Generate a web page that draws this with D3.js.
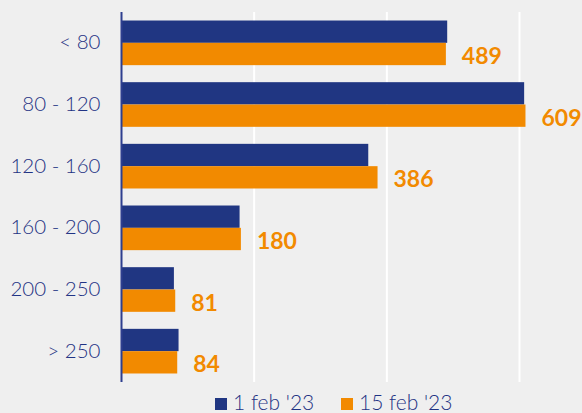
<!DOCTYPE html>
<html><head><meta charset="utf-8">
<script src="https://cdn.jsdelivr.net/npm/d3@7"></script>
<style>
html,body{margin:0;padding:0;background:#efefef;}
svg{display:block;font-family:Lato,"Open Sans",sans-serif;}
</style></head>
<body><svg id="c" width="582" height="413"></svg>
<script>
const categories = ["< 80", "80 - 120", "120 - 160", "160 - 200", "200 - 250", "> 250"];
const seriesNames = ["1 feb '23", "15 feb '23"];
const feb1 = [491, 607, 372, 178, 79, 86];
const feb15 = [489, 609, 386, 180, 81, 84];
const gridTicks = [200, 400, 600];
const colors = ["#203682", "#f28a00"];

(function () {
const svg = d3.select("#c");
const plotTop = 12, plotBottom = 382, plotLeft = 121.5;
const x = d3.scaleLinear().domain([0, 600]).range([plotLeft, 519.5]);
const y = d3.scaleBand().domain(categories).range([plotTop, plotBottom]).paddingInner(0.276).paddingOuter(0.138);
const y1 = d3.scaleBand().domain(seriesNames).range([0, y.bandwidth()]);

// gridlines
svg.append("g").selectAll("line").data(gridTicks).join("line")
  .attr("x1", d => x(d)).attr("x2", d => x(d))
  .attr("y1", plotTop).attr("y2", plotBottom)
  .attr("stroke", "#ffffff").attr("stroke-width", 2);

const rows = categories.map((c, i) => ({cat: c, vals: [feb1[i], feb15[i]]}));

const g = svg.append("g").selectAll("g").data(rows).join("g")
  .attr("transform", d => `translate(0,${y(d.cat)})`);
g.selectAll("rect").data(d => d.vals.map((v, j) => ({s: seriesNames[j], v, j}))).join("rect")
  .attr("x", x(0)).attr("y", d => y1(d.s))
  .attr("width", d => x(d.v) - x(0)).attr("height", y1.bandwidth())
  .attr("fill", d => colors[d.j]);

// data labels for 15 feb
g.append("text")
  .attr("x", d => x(d.vals[1]) + 16)
  .attr("y", y1(seriesNames[1]) + y1.bandwidth() / 2 + 1)
  .attr("dominant-baseline", "central")
  .attr("fill", colors[1]).attr("font-weight", "bold").attr("font-size", 23)
  .text(d => d.vals[1]);

// y axis
const yAxis = d3.axisLeft(y).tickSize(0).tickPadding(21);
const ax = svg.append("g").attr("transform", `translate(${plotLeft},0)`).call(yAxis);
ax.select(".domain").attr("stroke", "#2e3f8f").attr("stroke-width", 2).attr("d", `M0,${plotTop}V${plotBottom}`);
ax.selectAll("text").attr("fill", "#1f3384").attr("font-size", 20.5).attr("font-weight", 300).attr("font-family", "Lato, sans-serif");

// legend
const legend = svg.append("g");
const lx = [215, 341];
seriesNames.forEach((s, i) => {
  legend.append("rect").attr("x", lx[i]).attr("y", 398).attr("width", 12).attr("height", 12).attr("fill", colors[i]);
  legend.append("text").attr("x", lx[i] + 18).attr("y", 409.5)
    .attr("fill", "#1f3384").attr("font-size", 21).attr("font-weight", 300).text(s);
});
})();
</script></body></html>
